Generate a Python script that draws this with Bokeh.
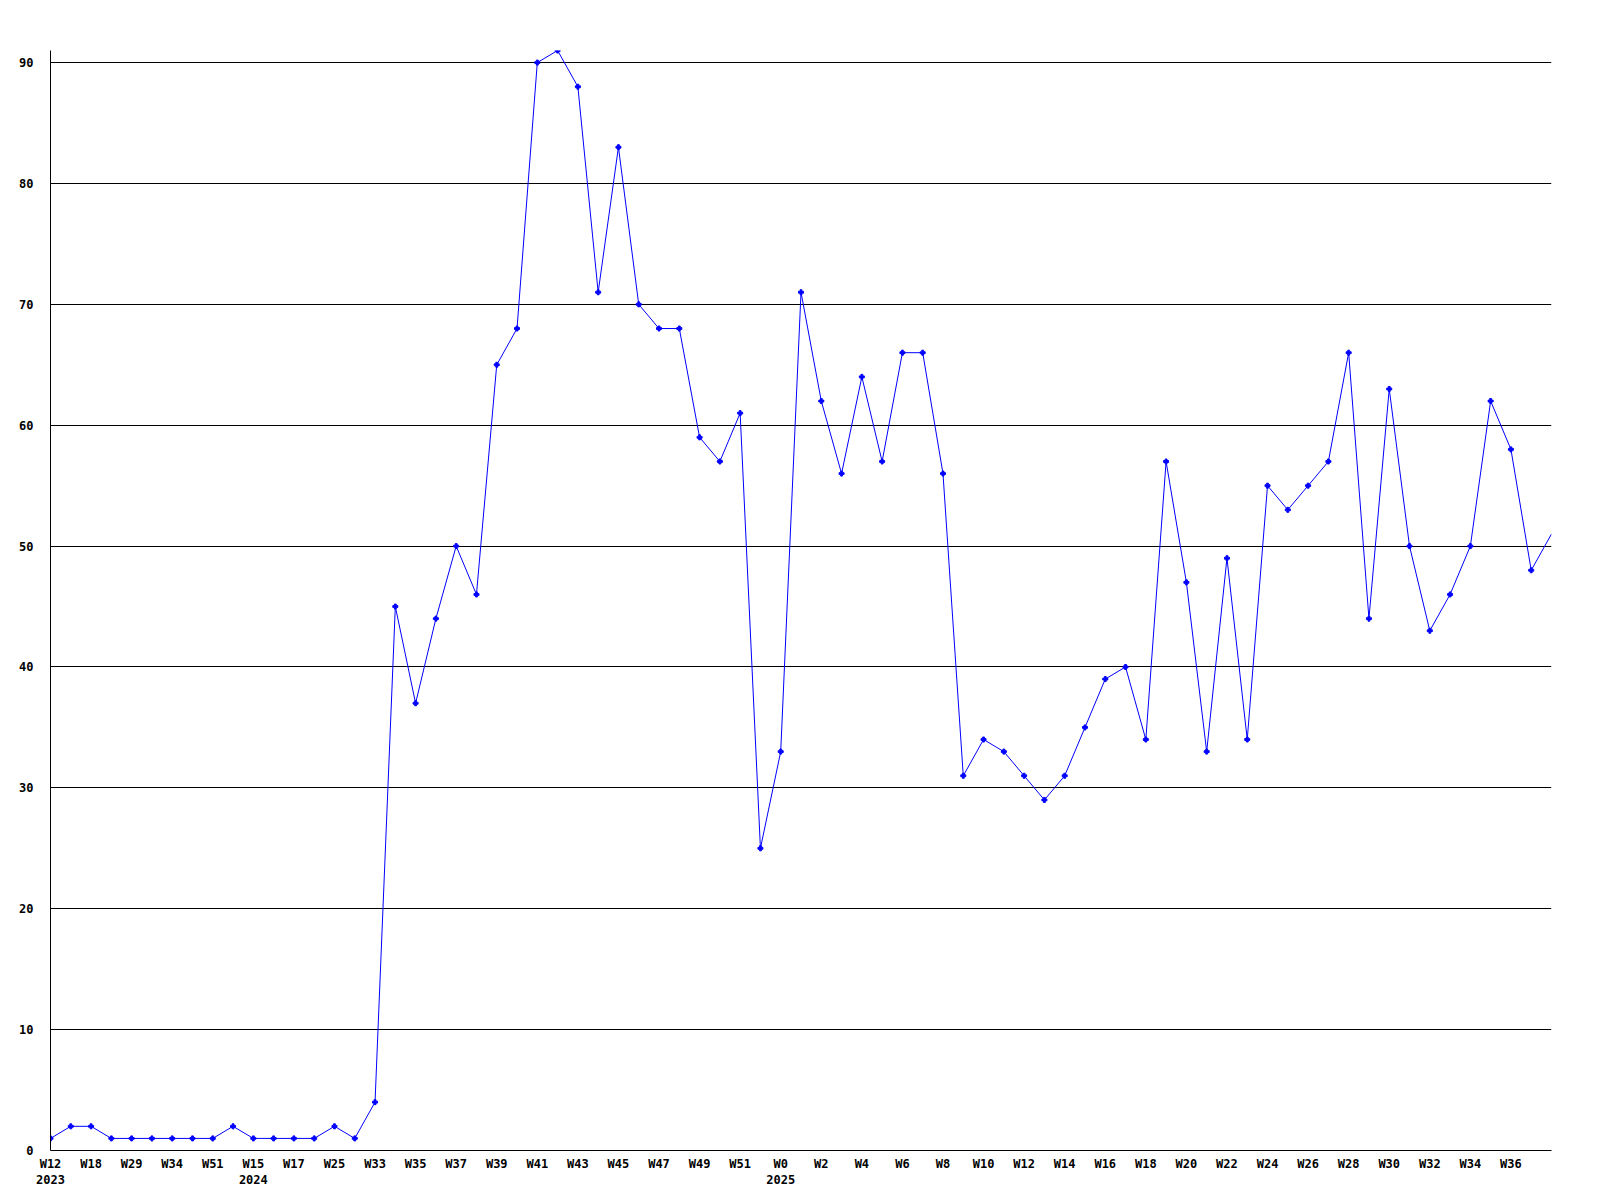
from bokeh.plotting import figure
from bokeh.models import ColumnDataSource, FixedTicker, CDSView, IndexFilter
from bokeh.embed import file_html
from bokeh.resources import INLINE

values = [1, 2, 2, 1, 1, 1, 1, 1, 1, 2,
          1, 1, 1, 1, 2, 1, 4, 45, 37, 44,
          50, 46, 65, 68, 90, 91, 88, 71, 83, 70,
          68, 68, 59, 57, 61, 25, 33, 71, 62, 56,
          64, 57, 66, 66, 56, 31, 34, 33, 31, 29,
          31, 35, 39, 40, 34, 57, 47, 33, 49, 34,
          55, 53, 55, 57, 66, 44, 63, 50, 43, 46,
          50, 62, 58, 48, 51]

tick_labels = ["W12\n2023", "W18", "W29", "W34", "W51", "W15\n2024", "W17", "W25", "W33",
               "W35", "W37", "W39", "W41", "W43", "W45", "W47", "W49", "W51", "W0\n2025",
               "W2", "W4", "W6", "W8", "W10", "W12", "W14", "W16", "W18", "W20",
               "W22", "W24", "W26", "W28", "W30", "W32", "W34", "W36"]

y_ticks = [0, 10, 20, 30, 40, 50, 60, 70, 80, 90]

x = list(range(len(values)))
src = ColumnDataSource(dict(x=x, y=values))
tick_pos = [2 * i for i in range(len(tick_labels))]

p = figure(width=1584, height=1190, output_backend="svg", toolbar_location=None,
           x_range=(0, len(values) - 1), y_range=(0, 91),
           min_border_left=50, min_border_right=33, min_border_top=50, min_border_bottom=34)
p.outline_line_color = None
p.background_fill_color = "white"
p.border_fill_color = "white"

p.line("x", "y", source=src, line_color="#0000ff", line_width=1)
view = CDSView(filter=IndexFilter(list(range(len(values) - 1))))
p.scatter("x", "y", source=src, view=view, marker="plus", size=5,
          fill_color="#0000ff", line_color="#0000ff")

p.xgrid.grid_line_color = None
p.ygrid.grid_line_color = "black"
p.ygrid.grid_line_width = 1
p.ygrid.ticker = FixedTicker(ticks=y_ticks)

p.yaxis.ticker = FixedTicker(ticks=y_ticks)
p.xaxis.ticker = FixedTicker(ticks=tick_pos)
p.xaxis.major_label_overrides = {pos: lab for pos, lab in zip(tick_pos, tick_labels)}

for ax in (p.xaxis, p.yaxis):
    ax.axis_line_color = "black"
    ax.axis_line_width = 1
    ax.major_tick_line_color = None
    ax.minor_tick_line_color = None
    ax.major_label_text_font = "DejaVu Sans Mono"
    ax.major_label_text_font_style = "bold"
    ax.major_label_text_font_size = "12px"
    ax.major_label_text_color = "black"

p.yaxis.major_label_standoff = 11
p.xaxis.major_label_standoff = 0

open("out.html", "w").write(file_html(p, INLINE))
